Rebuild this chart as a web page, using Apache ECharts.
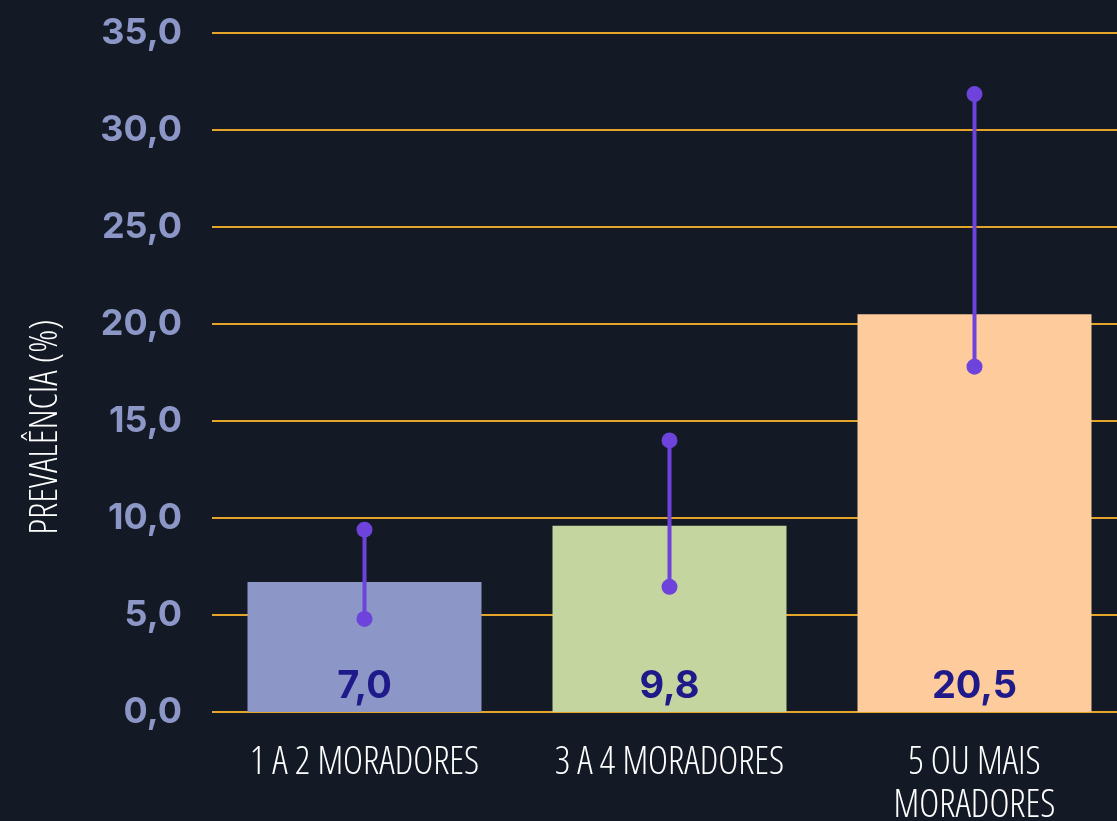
<!DOCTYPE html>
<html>
<head>
<meta charset="utf-8">
<script src="https://cdn.jsdelivr.net/npm/echarts@6/dist/echarts.min.js"></script>
<style>
  html, body { margin: 0; padding: 0; background: #131a25; }
  #chart { width: 1117px; height: 821px; }
</style>
</head>
<body>
<div id="chart"></div>
<script>
// categories and values
const categories = ['1 A 2 MORADORES', '3 A 4 MORADORES', '5 OU MAIS\nMORADORES'];
const prevalence = [6.7, 9.6, 20.5];
const valueLabels = ['7,0', '9,8', '20,5'];
const ciLow = [4.8, 6.45, 17.8];
const ciHigh = [9.4, 14.0, 31.85];
const barColors = ['#8c97c7', '#c4d59f', '#fecb9c'];
const yTicks = [0, 5, 10, 15, 20, 25, 30, 35];

const chart = echarts.init(document.getElementById('chart'));

const narrow = '"Open Sans", sans-serif';

chart.setOption({
  backgroundColor: '#131a25',
  animation: false,
  grid: { left: 212, right: -10, top: 33, bottom: 109, outerBoundsMode: 'none' },
  xAxis: {
    type: 'category',
    data: categories,
    axisLine: { show: false },
    axisTick: { show: false },
    axisLabel: {
      color: '#ffffff',
      fontFamily: narrow,
      fontStyle: 'condensed',
      fontWeight: 300,
      fontSize: 38,
      lineHeight: 43,
      margin: 30,
      interval: 0
    }
  },
  yAxis: {
    type: 'value',
    min: yTicks[0],
    max: yTicks[yTicks.length - 1],
    interval: 5,
    axisLine: { show: false },
    axisTick: { show: false },
    splitLine: { lineStyle: { color: '#e5a52a', width: 2 } },
    axisLabel: {
      color: '#8c97c7',
      fontFamily: 'Inter, sans-serif',
      fontWeight: 700,
      fontSize: 36,
      margin: 30,
      formatter: v => v.toFixed(1).replace('.', ',')
    }
  },
  graphic: [{
    type: 'text',
    x: 46, y: 427,
    rotation: Math.PI / 2,
    style: {
      text: 'PREVALÊNCIA (%)',
      fill: '#ffffff',
      font: 'condensed 300 38px ' + narrow,
      textAlign: 'center',
      textVerticalAlign: 'middle'
    }
  }],
  series: [
    {
      type: 'bar',
      barWidth: 234,
      data: prevalence.map((v, i) => ({ value: v, itemStyle: { color: barColors[i] } })),
      label: {
        show: true,
        position: 'insideBottom',
        distance: 6,
        color: '#1f1a8a',
        fontFamily: 'Inter, sans-serif',
        fontWeight: 700,
        fontSize: 38,
        lineHeight: 38,
        formatter: p => valueLabels[p.dataIndex]
      }
    },
    {
      type: 'custom',
      data: ciLow.map((lo, i) => [i, lo, ciHigh[i]]),
      renderItem: (params, api) => {
        const top = api.coord([api.value(0), api.value(2)]);
        const bot = api.coord([api.value(0), api.value(1)]);
        const color = '#6d43db';
        return {
          type: 'group',
          children: [
            { type: 'line', shape: { x1: top[0], y1: top[1], x2: bot[0], y2: bot[1] }, style: { stroke: color, lineWidth: 4 } },
            { type: 'circle', shape: { cx: top[0], cy: top[1], r: 8 }, style: { fill: color } },
            { type: 'circle', shape: { cx: bot[0], cy: bot[1], r: 8 }, style: { fill: color } }
          ]
        };
      },
      z: 5
    }
  ]
});
</script>
</body>
</html>
